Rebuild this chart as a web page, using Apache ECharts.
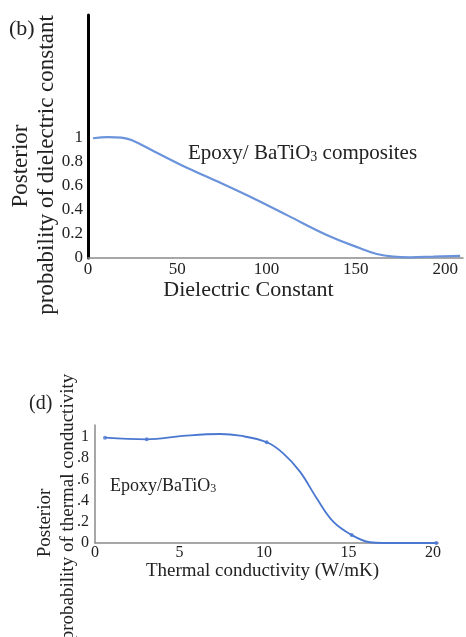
<!DOCTYPE html>
<html>
<head>
<meta charset="utf-8">
<script src="https://cdn.jsdelivr.net/npm/echarts@6/dist/echarts.min.js"></script>
<style>
html,body{margin:0;padding:0;background:#fff;}
#c{width:466px;height:637px;}
</style>
</head>
<body>
<div id="c"></div>
<script>
// ---- Data: panel (b) dielectric constant ----
const dielX = [2.8, 11.2, 18.7, 24.3, 37.4, 56.0, 74.7, 93.4, 112.0, 133.7, 152.4, 161.7, 171.0, 180.4, 193.4, 208.4];
const dielY = [0.998, 1.008, 1.003, 0.983, 0.886, 0.748, 0.623, 0.492, 0.353, 0.192, 0.081, 0.033, 0.011, 0.006, 0.011, 0.017];
const dielXTicks = ['0', '50', '100', '150', '200'];
const dielYTicks = ['0', '0.2', '0.4', '0.6', '0.8', '1'];

// ---- Data: panel (d) thermal conductivity ----
const thermX = [0.59, 3.06, 5.2, 7.4, 8.58, 10.16, 11.14, 12.13, 13.12, 14.1, 15.19, 16.27, 17.06, 18.05, 20.2];
const thermY = [0.993, 0.978, 1.01, 1.028, 1.012, 0.95, 0.846, 0.673, 0.422, 0.201, 0.075, 0.007, 0.0, 0.0, 0.0];
const thermMarkX = [0.59, 3.06, 10.16, 15.19, 20.2];
const thermMarkY = [0.993, 0.978, 0.95, 0.075, 0.0];
const thermXTicks = ['0', '5', '10', '15', '20'];
const thermYTicks = ['0', '.2', '.4', '.6', '.8', '1'];

const FONT = '"Liberation Serif", "DejaVu Serif", serif';
const TXT = '#222';

function pair(xs, ys) { return xs.map((x, i) => [x, ys[i]]); }
function tickFmt(labels, step) {
  return function (v) {
    const k = Math.round(v / step);
    if (Math.abs(v - k * step) > 1e-6) return '';
    return labels[k] !== undefined ? labels[k] : '';
  };
}

const chart = echarts.init(document.getElementById('c'), null, {renderer: 'canvas'});
chart.setOption({
  backgroundColor: '#fff',
  animation: false,
  grid: [
    {left: 88, right: 3, top: 15, bottom: 379},
    {left: 95, right: 28, top: 425, bottom: 94}
  ],
  xAxis: [
    {
      gridIndex: 0, type: 'value', min: 0, max: 210, interval: 50,
      splitLine: {show: false}, axisTick: {show: false},
      axisLine: {show: true, onZero: false, lineStyle: {color: '#8a8a8a', width: 1.5}},
      axisLabel: {fontFamily: FONT, fontSize: 17, color: TXT, margin: 3, showMaxLabel: false,
        formatter: tickFmt(dielXTicks, 50)},
      name: 'Dielectric Constant', nameLocation: 'middle', nameGap: 19,
      nameTextStyle: {fontFamily: FONT, fontSize: 22, color: TXT, padding: [0, 54, 0, 0]}
    },
    {
      gridIndex: 1, type: 'value', min: 0, max: 20.3, interval: 5,
      splitLine: {show: false}, axisTick: {show: false},
      axisLine: {show: true, onZero: false, lineStyle: {color: '#8a8a8a', width: 1.5}},
      axisLabel: {fontFamily: FONT, fontSize: 16, color: TXT, margin: 2, showMaxLabel: false,
        formatter: tickFmt(thermXTicks, 5)},
      name: 'Thermal conductivity (W/mK)', nameLocation: 'middle', nameGap: 16,
      nameTextStyle: {fontFamily: FONT, fontSize: 19, color: TXT, padding: [0, 8, 0, 0]}
    }
  ],
  yAxis: [
    {
      gridIndex: 0, type: 'value', min: 0, max: 2.025, interval: 0.2,
      splitLine: {show: false}, axisTick: {show: false},
      axisLine: {show: true, onZero: false, lineStyle: {color: '#000', width: 3}},
      axisLabel: {fontFamily: FONT, fontSize: 17, color: TXT, margin: 5, showMaxLabel: false,
        formatter: tickFmt(dielYTicks, 0.2)}
    },
    {
      gridIndex: 1, type: 'value', min: 0, max: 1.113, interval: 0.2,
      splitLine: {show: false}, axisTick: {show: false},
      axisLine: {show: true, onZero: false, lineStyle: {color: '#8a8a8a', width: 1.5}},
      axisLabel: {fontFamily: FONT, fontSize: 16, color: TXT, margin: 6, showMaxLabel: false,
        formatter: tickFmt(thermYTicks, 0.2)}
    }
  ],
  series: [
    {
      type: 'line', xAxisIndex: 0, yAxisIndex: 0, data: pair(dielX, dielY),
      smooth: 0.4, showSymbol: false, symbol: 'none',
      lineStyle: {color: '#6b93dc', width: 2.2}
    },
    {
      type: 'line', xAxisIndex: 1, yAxisIndex: 1, data: pair(thermX, thermY),
      smooth: 0.4, showSymbol: false, symbol: 'none',
      lineStyle: {color: '#4a77d0', width: 1.8}
    },
    {
      type: 'scatter', xAxisIndex: 1, yAxisIndex: 1, data: pair(thermMarkX, thermMarkY),
      symbol: 'circle', symbolSize: 4, itemStyle: {color: '#4a77d0'}
    }
  ],
  graphic: [
    {type: 'text', left: 9, top: 18, style: {text: '(b)', font: '22px ' + FONT, fill: TXT}},
    {type: 'text', x: 21, y: 166, rotation: Math.PI / 2,
      style: {text: 'Posterior', font: '23px ' + FONT, fill: TXT, align: 'center', verticalAlign: 'middle'}},
    {type: 'text', x: 47, y: 165, rotation: Math.PI / 2,
      style: {text: 'probability of dielectric constant', font: '23px ' + FONT, fill: TXT, align: 'center', verticalAlign: 'middle'}},
    {type: 'text', left: 188, top: 143,
      style: {
        text: 'Epoxy/ BaTiO{s|3} composites',
        font: '21px ' + FONT, fill: TXT,
        rich: {s: {fontSize: 14, fontFamily: FONT, fill: TXT, verticalAlign: 'bottom', padding: [5, 0, 0, 0]}}
      }},
    {type: 'text', left: 29, top: 394, style: {text: '(d)', font: '20px ' + FONT, fill: TXT}},
    {type: 'text', x: 45, y: 523, rotation: Math.PI / 2,
      style: {text: 'Posterior', font: '19px ' + FONT, fill: TXT, align: 'center', verticalAlign: 'middle'}},
    {type: 'text', x: 68, y: 507, rotation: Math.PI / 2,
      style: {text: 'probability of thermal conductivity', font: '19px ' + FONT, fill: TXT, align: 'center', verticalAlign: 'middle'}},
    {type: 'text', left: 110, top: 477,
      style: {
        text: 'Epoxy/BaTiO{s|3}',
        font: '18px ' + FONT, fill: TXT,
        rich: {s: {fontSize: 12, fontFamily: FONT, fill: TXT, verticalAlign: 'bottom', padding: [4, 0, 0, 0]}}
      }}
  ]
});
</script>
</body>
</html>
